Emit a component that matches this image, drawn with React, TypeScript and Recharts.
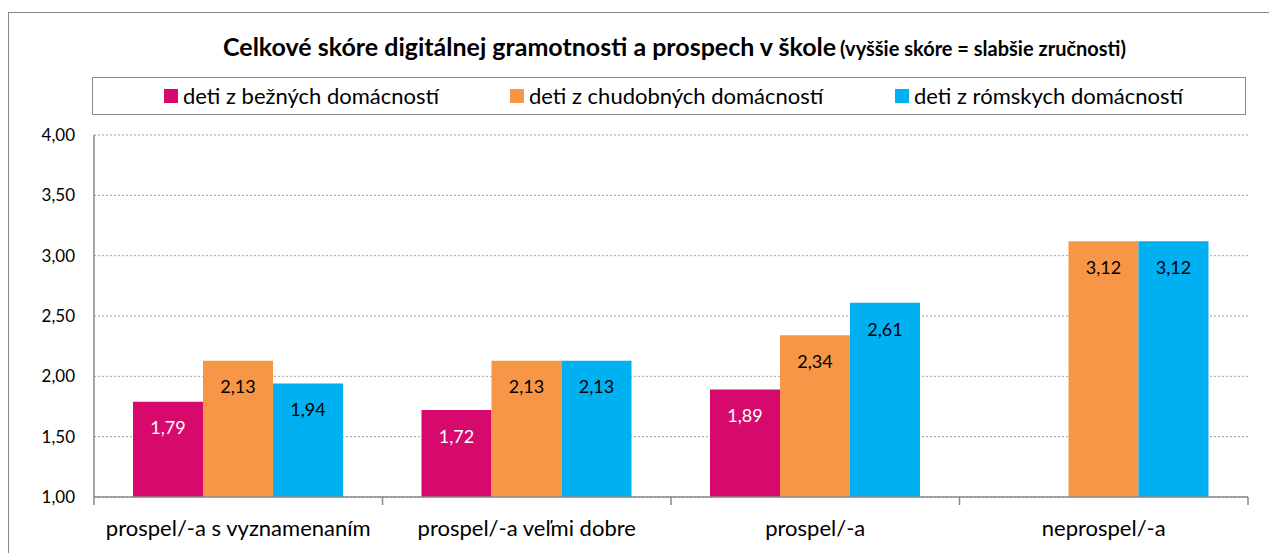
import React from 'react';
import { BarChart, Bar, XAxis, YAxis, CartesianGrid, LabelList } from 'recharts';

const categories = ['prospel/-a s vyznamenaním', 'prospel/-a veľmi dobre', 'prospel/-a', 'neprospel/-a'];
const bezne: (number | null)[] = [1.79, 1.72, 1.89, null];
const chudobne: (number | null)[] = [2.13, 2.13, 2.34, 3.12];
const romske: (number | null)[] = [1.94, 2.13, 2.61, 3.12];
const yTicks = [1, 1.5, 2, 2.5, 3, 3.5, 4];
const seriesKeys = ['bezne', 'chudobne', 'romske'];
const seriesNames = ['deti z bežných domácností', 'deti z chudobných domácností', 'deti z rómskych domácností'];
const seriesColors = ['#D60A6C', '#F79646', '#00B0F0'];
const labelColors = ['#FFFFFF', '#000000', '#000000'];
const titleMain = 'Celkové skóre digitálnej gramotnosti a prospech v škole';
const titleSub = '(vyššie skóre = slabšie zručnosti)';

const data = categories.map((c, i) => ({ name: c, bezne: bezne[i], chudobne: chudobne[i], romske: romske[i] }));

const fmt = (v: any) => (v === null || v === undefined || v === '' ? '' : Number(v).toFixed(2).replace('.', ','));

const FONT = 'Lato, "Noto Sans", sans-serif';
const legendLefts = [71, 417, 802];

const XTick = (props: any) => {
  const { x, y, payload, index } = props;
  const off = payload && payload.offset ? payload.offset : 0;
  return (
    <g>
      <line x1={x - off} y1={y} x2={x - off} y2={y + 8} stroke="#888" strokeWidth={1.5} />
      {index === categories.length - 1 && (
        <line x1={x + off} y1={y} x2={x + off} y2={y + 8} stroke="#888" strokeWidth={1.5} />
      )}
      <text x={x} y={y + 39} textAnchor="middle" fontSize={22} fill="#000" fontFamily={FONT}>
        {payload.value}
      </text>
    </g>
  );
};

export default function App() {
  return (
    <div style={{ position: 'fixed', left: 0, top: 0, width: 1269, height: 553, overflow: 'hidden', background: '#fff', fontFamily: FONT }}>
      <div style={{ position: 'absolute', left: 8, top: 12, width: 1300, height: 600, border: '1px solid #888', boxSizing: 'border-box' }} />
      <div style={{ position: 'absolute', left: 98, width: 1153, top: 31, height: 30, lineHeight: '30px', textAlign: 'center', fontWeight: 700, color: '#000', whiteSpace: 'nowrap' }}>
        <span style={{ fontSize: 25 }}>{titleMain}</span>{' '}
        <span style={{ fontSize: 20 }}>{titleSub}</span>
      </div>
      <div style={{ position: 'absolute', left: 92, top: 77, width: 1154, height: 38, border: '1px solid #888', boxSizing: 'border-box', background: '#fff' }}>
        {seriesNames.map((n, i) => (
          <div key={n} style={{ position: 'absolute', left: legendLefts[i], top: 0, height: 36, display: 'flex', alignItems: 'center', whiteSpace: 'nowrap' }}>
            <span style={{ display: 'inline-block', width: 14, height: 14, background: seriesColors[i], marginRight: 5 }} />
            <span style={{ fontSize: 22, color: '#000', lineHeight: '36px' }}>{n}</span>
          </div>
        ))}
      </div>
      <div style={{ position: 'absolute', left: 0, top: 0 }}>
        <BarChart width={1269} height={553} data={data} margin={{ top: 135, right: 21, bottom: 0, left: 0 }} barCategoryGap={39} barGap={0}>
          <CartesianGrid vertical={false} strokeDasharray="2 2" stroke="#a0a0a0" />
          <XAxis dataKey="name" height={56} tickSize={0} tickMargin={0} tickLine={false} axisLine={{ stroke: '#888', strokeWidth: 1.5 }} tick={<XTick />} interval={0} />
          <YAxis width={94} domain={[1, 4]} ticks={yTicks} tickFormatter={fmt} tickLine={false} tickMargin={13} axisLine={{ stroke: '#888', strokeWidth: 1.5 }} tick={{ fontSize: 17, fill: '#000', fontFamily: FONT }} interval={0} />
          {seriesKeys.map((k, i) => (
            <Bar key={k} dataKey={k} name={seriesNames[i]} fill={seriesColors[i]} isAnimationActive={false}>
              <LabelList dataKey={k} position="insideTop" offset={20} formatter={fmt} fill={labelColors[i]} fontSize={18} fontFamily={FONT} />
            </Bar>
          ))}
        </BarChart>
      </div>
    </div>
  );
}
